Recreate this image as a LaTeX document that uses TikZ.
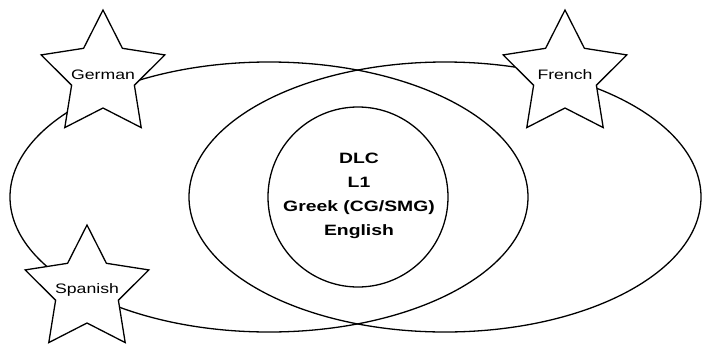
\documentclass[tikz,border=0pt]{standalone}
\usepackage{fontspec}
\newfontfamily\langfont[FakeStretch=1.29]{Liberation Sans}
\usetikzlibrary{shapes.geometric}

\begin{document}
\begin{tikzpicture}[x=1pt,y=-1pt,line width=1.3pt,
	langstar/.style={star,star points=5,star point ratio=1.97,minimum size=130pt,inner sep=0pt,draw,fill=white},
	langlabel/.style={inner sep=0pt,font=\langfont\fontsize{13.7}{16}\selectfont},
	corelabel/.style={align=center,font=\langfont\bfseries\fontsize{15}{24.2}\selectfont}]
	\useasboundingbox (0,0) rectangle (702,346);

	\draw (269,197) ellipse [x radius=259, y radius=135];
	\draw (445,197) ellipse [x radius=256, y radius=135];
	\draw (358,197) circle [radius=90];
	\node[corelabel] (core) at (359,196) {DLC\\L1\\Greek (CG/SMG)\\English};

	\node[langstar] (german) at (103,75) {};
	\node[langstar] (french) at (565,75) {};
	\node[langstar] (spanish) at (87,290) {};
	\node[langlabel] at (german) {German};
	\node[langlabel] at (french) {French};
	\node[langlabel] at (spanish) {Spanish};

\end{tikzpicture}
\end{document}
